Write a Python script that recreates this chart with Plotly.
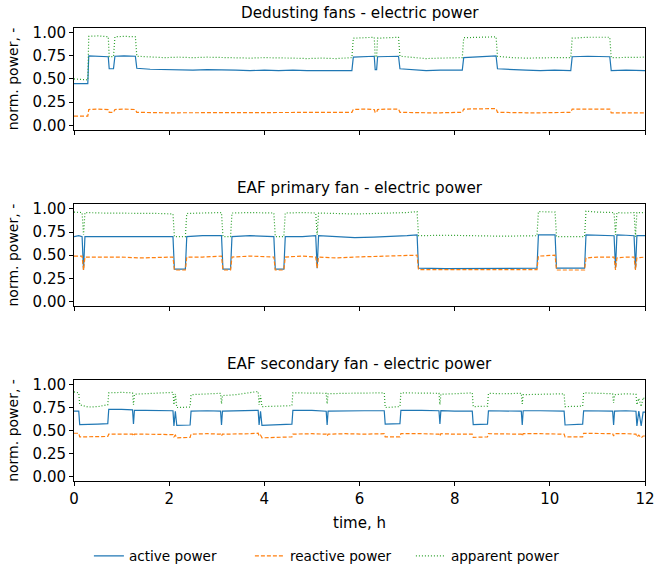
import plotly.graph_objects as go
from plotly.subplots import make_subplots

# ---------------- data ----------------
titles = ["Dedusting fans - electric power",
          "EAF primary fan - electric power",
          "EAF secondary fan - electric power"]
series_names = ["active power", "reactive power", "apparent power"]

t1 = [0.00, 0.29, 0.31, 0.50, 0.72, 0.74, 0.83, 0.86, 1.05, 1.29,
      1.32, 1.60, 1.90, 2.20, 2.50, 2.80, 3.10, 3.40, 3.70, 4.00, 4.30, 4.60, 4.90, 5.20, 5.50, 5.84,
      5.87, 6.10, 6.31, 6.33, 6.36, 6.38, 6.60, 6.82,
      6.85, 7.10, 7.40, 7.70, 8.00, 8.16, 8.19, 8.50, 8.87,
      8.90, 9.20, 9.50, 9.80, 10.10, 10.44, 10.47, 10.80, 11.10, 11.26,
      11.29, 11.60, 12.00]
active1 = [0.45, 0.45, 0.75, 0.745, 0.74, 0.61, 0.61, 0.745, 0.75, 0.745,
           0.615, 0.605, 0.60, 0.60, 0.595, 0.60, 0.60, 0.595, 0.59, 0.595, 0.59, 0.595, 0.59, 0.59, 0.585, 0.59,
           0.735, 0.74, 0.745, 0.60, 0.60, 0.74, 0.745, 0.745,
           0.61, 0.60, 0.59, 0.595, 0.59, 0.595, 0.73, 0.74, 0.75,
           0.61, 0.60, 0.595, 0.59, 0.595, 0.59, 0.74, 0.745, 0.745, 0.74,
           0.59, 0.595, 0.59]
reactive1 = [0.10, 0.10, 0.17, 0.175, 0.17, 0.14, 0.14, 0.17, 0.175, 0.17,
             0.14, 0.135, 0.135, 0.135, 0.135, 0.135, 0.135, 0.135, 0.14, 0.135, 0.135, 0.135, 0.135, 0.135, 0.135, 0.14,
             0.17, 0.175, 0.17, 0.14, 0.14, 0.17, 0.175, 0.175,
             0.14, 0.135, 0.135, 0.135, 0.135, 0.14, 0.175, 0.18, 0.18,
             0.14, 0.135, 0.135, 0.135, 0.135, 0.14, 0.175, 0.175, 0.18, 0.175,
             0.135, 0.135, 0.135]
apparent1 = [0.50, 0.49, 0.96, 0.965, 0.955, 0.74, 0.74, 0.955, 0.96, 0.955,
             0.745, 0.735, 0.73, 0.735, 0.73, 0.735, 0.73, 0.73, 0.725, 0.73, 0.73, 0.725, 0.72, 0.725, 0.72, 0.73,
             0.94, 0.945, 0.95, 0.74, 0.74, 0.94, 0.945, 0.95,
             0.745, 0.735, 0.72, 0.725, 0.73, 0.73, 0.945, 0.95, 0.955,
             0.745, 0.73, 0.725, 0.73, 0.73, 0.73, 0.94, 0.95, 0.955, 0.95,
             0.73, 0.735, 0.735]

t2 = [0.00, 0.10, 0.17, 0.20, 0.23, 0.60, 1.00, 1.40, 1.80, 2.08,
      2.11, 2.34, 2.37, 2.70, 3.10, 3.13, 3.29, 3.32, 3.70, 4.20,
      4.23, 4.41, 4.44, 4.80, 5.08, 5.11,
      5.14, 5.50, 5.90, 6.30, 6.70, 7.00, 7.21,
      7.24, 7.80, 8.40, 9.00, 9.73, 9.76, 10.11, 10.14, 10.73,
      10.76, 11.00, 11.35, 11.38, 11.41, 11.60, 11.77, 11.80, 11.83, 12.00]
active2 = [0.70, 0.71, 0.70, 0.34, 0.70, 0.70, 0.695, 0.70, 0.695, 0.70,
           0.35, 0.35, 0.70, 0.71, 0.71, 0.35, 0.35, 0.70, 0.71, 0.70,
           0.35, 0.35, 0.70, 0.70, 0.71, 0.36,
           0.71, 0.70, 0.69, 0.695, 0.70, 0.71, 0.72,
           0.36, 0.355, 0.355, 0.355, 0.36, 0.72, 0.72, 0.36, 0.36,
           0.72, 0.715, 0.71, 0.36, 0.72, 0.715, 0.71, 0.35, 0.71, 0.71]
reactive2 = [0.49, 0.49, 0.49, 0.34, 0.48, 0.48, 0.48, 0.47, 0.48, 0.48,
             0.34, 0.34, 0.48, 0.48, 0.49, 0.34, 0.34, 0.48, 0.49, 0.48,
             0.34, 0.34, 0.48, 0.49, 0.48, 0.36,
             0.48, 0.47, 0.48, 0.485, 0.49, 0.49, 0.50,
             0.345, 0.345, 0.345, 0.345, 0.345, 0.49, 0.50, 0.34, 0.34,
             0.47, 0.48, 0.48, 0.34, 0.47, 0.48, 0.48, 0.34, 0.47, 0.48]
apparent2 = [0.965, 0.965, 0.96, 0.72, 0.96, 0.955, 0.955, 0.95, 0.95, 0.945,
             0.70, 0.70, 0.95, 0.955, 0.96, 0.70, 0.70, 0.955, 0.96, 0.955,
             0.70, 0.70, 0.955, 0.96, 0.955, 0.72,
             0.955, 0.95, 0.945, 0.95, 0.955, 0.96, 0.97,
             0.71, 0.715, 0.71, 0.705, 0.71, 0.97, 0.965, 0.70, 0.70,
             0.975, 0.965, 0.96, 0.72, 0.96, 0.955, 0.96, 0.70, 0.96, 0.96]

t3 = [0.00, 0.10, 0.12, 0.30, 0.50, 0.71, 0.73, 1.00, 1.23, 1.25,
      1.27, 1.50, 1.80, 2.08, 2.10, 2.13, 2.16, 2.44, 2.46, 2.80,
      3.08, 3.10, 3.12, 3.40, 3.70, 3.87, 3.89, 3.92, 3.95, 4.58,
      4.60, 5.00, 5.30, 5.32, 5.34, 5.70, 6.10, 6.52, 6.54, 6.85,
      6.87, 7.30, 7.67, 7.69, 7.71, 8.00, 8.37, 8.39, 8.69, 8.71,
      9.00, 9.40, 9.42, 9.44, 9.80, 10.30, 10.32, 10.69, 10.71, 11.00,
      11.32, 11.34, 11.36, 11.60, 11.81, 11.83, 11.87, 11.92, 11.96, 12.00]
active3 = [0.71, 0.71, 0.565, 0.565, 0.57, 0.575, 0.73, 0.73, 0.725, 0.57,
           0.72, 0.72, 0.72, 0.715, 0.55, 0.71, 0.555, 0.56, 0.71, 0.715,
           0.71, 0.56, 0.71, 0.715, 0.72, 0.72, 0.56, 0.71, 0.555, 0.57,
           0.72, 0.72, 0.71, 0.56, 0.71, 0.715, 0.715, 0.715, 0.57, 0.575,
           0.72, 0.72, 0.715, 0.57, 0.715, 0.71, 0.71, 0.565, 0.57, 0.715,
           0.71, 0.71, 0.56, 0.715, 0.715, 0.71, 0.56, 0.57, 0.715, 0.71,
           0.71, 0.56, 0.71, 0.715, 0.71, 0.55, 0.71, 0.55, 0.70, 0.70]
reactive3 = [0.47, 0.47, 0.43, 0.43, 0.43, 0.435, 0.46, 0.46, 0.46, 0.44,
             0.46, 0.46, 0.455, 0.455, 0.43, 0.45, 0.42, 0.425, 0.46, 0.465,
             0.46, 0.44, 0.46, 0.46, 0.465, 0.47, 0.44, 0.45, 0.42, 0.43,
             0.46, 0.465, 0.46, 0.44, 0.46, 0.465, 0.46, 0.465, 0.43, 0.43,
             0.465, 0.465, 0.46, 0.44, 0.465, 0.46, 0.46, 0.425, 0.43, 0.465,
             0.46, 0.46, 0.44, 0.465, 0.465, 0.46, 0.43, 0.43, 0.47, 0.465,
             0.465, 0.44, 0.465, 0.465, 0.46, 0.43, 0.45, 0.42, 0.44, 0.44]
apparent3 = [0.92, 0.91, 0.78, 0.755, 0.76, 0.78, 0.91, 0.915, 0.91, 0.78,
             0.895, 0.90, 0.905, 0.915, 0.78, 0.90, 0.75, 0.755, 0.89, 0.895,
             0.905, 0.79, 0.88, 0.89, 0.91, 0.925, 0.78, 0.88, 0.76, 0.77,
             0.91, 0.91, 0.905, 0.79, 0.90, 0.905, 0.905, 0.91, 0.75, 0.76,
             0.91, 0.91, 0.905, 0.78, 0.895, 0.90, 0.91, 0.76, 0.765, 0.905,
             0.90, 0.905, 0.79, 0.89, 0.895, 0.90, 0.76, 0.765, 0.91, 0.905,
             0.90, 0.80, 0.89, 0.90, 0.895, 0.78, 0.85, 0.76, 0.86, 0.84]

y_ticks = [0.0, 0.25, 0.5, 0.75, 1.0]
x_ticks = [0, 2, 4, 6, 8, 10, 12]

# ---------------- figure ----------------
colors = ["#1f77b4", "#ff7f0e", "#2ca02c"]
dashes = ["solid", "4px,2px", "1px,2px"]
panels = [(t1, [active1, reactive1, apparent1]),
          (t2, [active2, reactive2, apparent2]),
          (t3, [active3, reactive3, apparent3])]

fig = make_subplots(rows=3, cols=1, shared_xaxes=False, vertical_spacing=0.0)
domains = [[0.775, 1.0], [0.386, 0.611], [0.0, 0.223]]
title_y = [1.034, 0.646, 0.259]

font = "DejaVu Sans"
for i, (t, ys) in enumerate(panels):
    for j, y in enumerate(ys):
        assert len(t) == len(y)
        fig.add_trace(go.Scatter(x=t, y=y, mode="lines", name=series_names[j],
                                 line=dict(color=colors[j], width=1.2, dash=dashes[j]),
                                 showlegend=(i == 0)),
                      row=i + 1, col=1)
    ax = "" if i == 0 else str(i + 1)
    fig.layout["yaxis" + ax].update(
        domain=domains[i], range=[-0.05, 1.05], tickvals=y_ticks, tickformat=".2f",
        showline=True, mirror=True, linecolor="black", linewidth=1,
        ticks="outside", ticklen=4, tickcolor="black", showgrid=False, zeroline=False,
        automargin=False,
        title=dict(text="norm. power, -", font=dict(size=14, color="black"), standoff=10),
        tickfont=dict(size=15, color="black"))
    fig.layout["xaxis" + ax].update(
        range=[0, 12], tickvals=x_ticks, showticklabels=(i == 2),
        showline=True, mirror=True, linecolor="black", linewidth=1,
        ticks="outside", ticklen=4, tickcolor="black", showgrid=False, zeroline=False,
        automargin=False, ticklabeloverflow="allow",
        tickfont=dict(size=15, color="black"))
    fig.add_annotation(text=titles[i], x=0.5, y=title_y[i], xref="paper", yref="paper",
                       xanchor="center", yanchor="middle", showarrow=False,
                       font=dict(size=15.2, color="black", family=font))

fig.layout["xaxis3"].update(title=dict(text="time, h", font=dict(size=15, color="black"), standoff=10))

fig.update_layout(
    width=654, height=568, autosize=False,
    margin=dict(l=74, r=9, t=28, b=87),
    paper_bgcolor="white", plot_bgcolor="white",
    font=dict(family=font, size=13.6, color="black"),
    legend=dict(orientation="h", xref="container", yref="container",
                x=0.5052, xanchor="center", y=0.0211, yanchor="middle",
                font=dict(size=13.6, color="black"), itemwidth=30, entrywidth=116),
)

fig.write_html("out.html",
               config={"responsive": False, "displayModeBar": False},
               post_script="document.body.style.margin='0px';document.body.style.overflow='hidden';")
